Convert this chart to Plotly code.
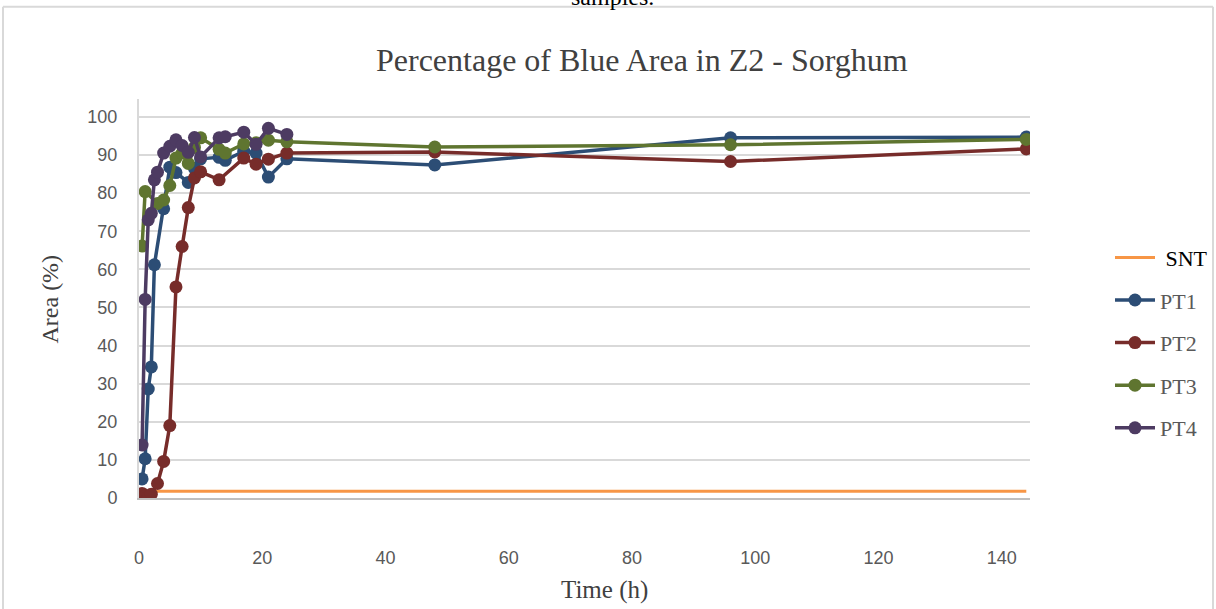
import plotly.graph_objects as go

# Sampling times (h) and blue-area percentages per treatment
snt_time = [0.5, 1, 1.5, 2, 3, 4, 5, 6, 7, 8, 9, 10, 13, 17, 19, 21, 24, 48, 96, 144]
snt_area = [1.8, 1.8, 1.8, 1.8, 1.8, 1.8, 1.8, 1.8, 1.8, 1.8, 1.8, 1.8, 1.8, 1.8, 1.8, 1.8, 1.8, 1.8, 1.8, 1.8]

pt1_time = [0.5, 1, 1.5, 2, 2.5, 4, 5, 6, 8, 9, 10, 13, 14, 17, 19, 21, 24, 48, 96, 144]
pt1_area = [5.0, 10.3, 28.6, 34.4, 61.2, 75.9, 86.8, 85.4, 82.8, 86.5, 89.0, 89.4, 88.6, 91.0, 90.5, 84.2, 89.0, 87.4, 94.5, 94.7]

pt2_time = [0.5, 1, 1.5, 2, 3, 4, 5, 6, 7, 8, 9, 10, 13, 17, 19, 21, 24, 48, 96, 144]
pt2_area = [1.2, 0.5, 0.3, 1.0, 3.8, 9.6, 19.0, 55.4, 66.0, 76.2, 84.0, 85.6, 83.5, 89.2, 87.6, 88.9, 90.5, 90.8, 88.3, 91.6]

pt3_time = [0.5, 1, 3, 4, 5, 6, 7, 8, 9, 10, 13, 14, 17, 19, 21, 24, 48, 96, 144]
pt3_area = [66.1, 80.4, 77.3, 78.2, 82.0, 89.2, 90.5, 87.8, 92.0, 94.5, 91.5, 90.5, 92.9, 93.2, 93.9, 93.5, 92.1, 92.7, 94.1]

pt4_time = [0.5, 1, 1.5, 2, 2.5, 3, 4, 5, 6, 7, 8, 9, 10, 13, 14, 17, 19, 21, 24]
pt4_area = [13.9, 52.1, 73.0, 74.7, 83.5, 85.5, 90.5, 92.3, 94.0, 92.5, 90.7, 94.6, 89.5, 94.5, 94.8, 96.0, 92.8, 97.0, 95.4]

y_ticks = [0, 10, 20, 30, 40, 50, 60, 70, 80, 90, 100]
x_ticks = [0, 20, 40, 60, 80, 100, 120, 140]

SERIF = "Liberation Serif, Times New Roman, serif"
SANS = "Liberation Sans, Arial, sans-serif"

fig = go.Figure()

fig.add_trace(go.Scatter(
    x=snt_time, y=snt_area, mode="lines",
    name="<span style='color:#000000'> SNT</span>",
    line=dict(color="#F79646", width=3),
    legendgroup="snt",
))

series = [
    ("PT1", pt1_time, pt1_area, "#2C4D75"),
    ("PT2", pt2_time, pt2_area, "#772C2A"),
    ("PT3", pt3_time, pt3_area, "#5F7530"),
    ("PT4", pt4_time, pt4_area, "#4D3B62"),
]
for name, t, v, col in series:
    fig.add_trace(go.Scatter(
        x=t, y=v, mode="lines+markers", name=name,
        line=dict(color=col, width=3.5),
        marker=dict(color=col, size=13),
        legendgroup=name,
    ))

fig.update_layout(
    width=1216, height=609,
    margin=dict(l=139, r=186, t=99, b=111, autoexpand=False),
    paper_bgcolor="white", plot_bgcolor="white",
    showlegend=True,
    legend=dict(
        x=(1110 - 139) / 891, xanchor="left", xref="paper",
        y=(498 - 343) / 398, yanchor="middle",
        font=dict(family=SERIF, size=22, color="#595959"),
        tracegroupgap=11, itemwidth=40, bgcolor="rgba(0,0,0,0)",
    ),
    xaxis=dict(
        range=[0, 144.6], tickvals=x_ticks, showgrid=False, zeroline=False,
        showline=True, linecolor="#BFBFBF", linewidth=2,
        ticks="outside", ticklen=42, tickcolor="rgba(0,0,0,0)",
        tickfont=dict(family=SANS, size=18, color="#595959"),
    ),
    yaxis=dict(
        range=[0, 104.7], tickvals=y_ticks, showgrid=True, gridcolor="#D9D9D9",
        gridwidth=1.5, zeroline=False,
        showline=True, linecolor="#D9D9D9", linewidth=2,
        ticks="outside", ticklen=16, tickcolor="rgba(0,0,0,0)",
        tickfont=dict(family=SANS, size=18, color="#595959"),
    ),
    annotations=[
        dict(text="Percentage of Blue Area in Z2 - Sorghum", xref="paper", yref="paper",
             x=(642 - 139) / 891, y=(498 - 61) / 398, xanchor="center", yanchor="middle",
             showarrow=False, font=dict(family=SERIF, size=32, color="#404040")),
        dict(text="Area (%)", xref="paper", yref="paper", textangle=-90,
             x=(50 - 139) / 891, y=(498 - 300) / 398, xanchor="center", yanchor="middle",
             showarrow=False, font=dict(family=SERIF, size=24, color="#404040")),
        dict(text="Time (h)", xref="paper", yref="paper",
             x=(604 - 139) / 891, y=(498 - 590) / 398, xanchor="center", yanchor="middle",
             showarrow=False, font=dict(family=SERIF, size=25, color="#404040")),
        dict(text="samples.", xref="paper", yref="paper",
             x=(612 - 139) / 891, y=(498 + 2) / 398, xanchor="center", yanchor="middle",
             showarrow=False, font=dict(family=SERIF, size=24, color="#000000")),
    ],
    shapes=[
        dict(type="line", xref="paper", yref="paper",
             x0=(3 - 139) / 891, x1=(1213 - 139) / 891,
             y0=(498 - 8) / 398, y1=(498 - 8) / 398,
             line=dict(color="#D9D9D9", width=2)),
        dict(type="line", xref="paper", yref="paper",
             x0=(3 - 139) / 891, x1=(3 - 139) / 891,
             y0=(498 - 8) / 398, y1=(498 - 615) / 398,
             line=dict(color="#D9D9D9", width=2)),
        dict(type="line", xref="paper", yref="paper",
             x0=(1213 - 139) / 891, x1=(1213 - 139) / 891,
             y0=(498 - 8) / 398, y1=(498 - 615) / 398,
             line=dict(color="#D9D9D9", width=2)),
    ],
)

fig.write_html("out.html")
